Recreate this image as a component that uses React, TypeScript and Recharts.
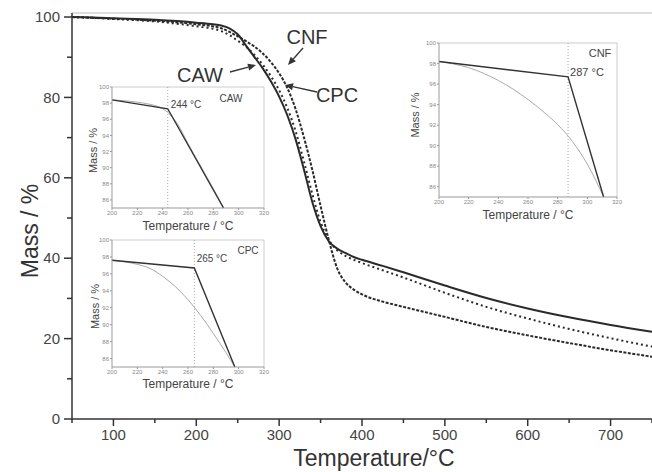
import { LineChart, Line, XAxis, YAxis, ReferenceLine } from 'recharts';

// main TGA curves (temperature in °C, mass in %)
const temps = [50, 75, 100, 150, 200, 220, 230, 240, 250, 260, 270, 280, 290, 300, 310, 320, 330, 340, 350, 360, 370, 380, 390, 400, 425, 450, 500, 550, 600, 650, 700, 750];
const cawMass = [100, 99.9, 99.7, 99.3, 98.6, 98.2, 97.9, 97.2, 95.7, 92.9, 90.1, 87.3, 84.0, 80.2, 75.5, 69.5, 62.0, 54.0, 48.0, 44.2, 42.4, 41.3, 40.3, 39.6, 38.1, 36.5, 33.2, 30.1, 27.5, 25.3, 23.4, 21.7];
const cpcMass = [100, 99.8, 99.5, 98.9, 97.7, 97.1, 96.5, 95.5, 94.1, 92.6, 90.6, 88.2, 85.3, 81.8, 77.3, 71.5, 64.0, 56.0, 49.0, 44.5, 42.0, 40.6, 39.6, 38.8, 37.0, 35.2, 31.4, 27.9, 25.0, 22.4, 20.1, 18.0];
const cnfMass = [100, 99.8, 99.6, 99.1, 98.2, 97.7, 97.2, 96.3, 95.2, 94.0, 92.7, 91.0, 88.8, 86.0, 82.3, 77.0, 70.0, 62.0, 53.0, 44.5, 37.5, 34.0, 32.2, 31.0, 29.2, 27.9, 25.4, 22.9, 20.8, 18.9, 17.1, 15.5];

const xTicks = [50, 100, 150, 200, 250, 300, 350, 400, 450, 500, 550, 600, 650, 700, 750];
const yTicks = [0, 10, 20, 30, 40, 50, 60, 70, 80, 90, 100];

// insets: measured curve + onset tangents
const cawCurveT = [200, 210, 220, 230, 236, 240, 244, 248, 252, 260, 270, 280, 288];
const cawCurveM = [98.4, 98.3, 98.12, 97.85, 97.6, 97.3, 96.85, 96.2, 95.35, 93.0, 90.2, 87.4, 85.1];
const cawTanT = [200, 244, 288];
const cawTanM = [98.4, 97.3, 85.0];

const cpcCurveT = [200, 210, 220, 230, 240, 250, 260, 270, 280, 290, 297];
const cpcCurveM = [97.6, 97.42, 97.12, 96.65, 95.7, 94.5, 92.95, 91.1, 88.95, 86.7, 85.0];
const cpcTanT = [200, 265, 297];
const cpcTanM = [97.6, 96.7, 85.0];

const cnfCurveT = [200, 210, 220, 230, 240, 250, 260, 270, 280, 290, 300, 311];
const cnfCurveM = [98.2, 97.95, 97.6, 97.05, 96.35, 95.5, 94.5, 93.35, 92.05, 90.4, 88.2, 85.0];
const cnfTanT = [200, 287, 311];
const cnfTanM = [98.2, 96.7, 85.0];

const insetXTicks = [200, 220, 240, 260, 280, 300, 320];
const insetYTicks = [86, 88, 90, 92, 94, 96, 98, 100];

const mainData = temps.map((t, i) => ({ t, caw: cawMass[i], cpc: cpcMass[i], cnf: cnfMass[i] }));
const toPts = (ts: number[], ms: number[]) => ts.map((t, i) => ({ t, m: ms[i] }));

const FONT = '"Liberation Sans", Arial, sans-serif';

const XTick = (props: any) => {
  const { x, y, payload } = props;
  const major = payload.value % 100 === 0;
  return (
    <g>
      <line x1={x} y1={y} x2={x} y2={y + (major ? 7 : 4)} stroke="#333" strokeWidth={1.5} />
      {major && (
        <text x={x} y={y + 21} textAnchor="middle" fontSize={15} fill="#444" fontFamily={FONT}>
          {payload.value}
        </text>
      )}
    </g>
  );
};

const YTick = (props: any) => {
  const { x, y, payload } = props;
  const major = payload.value % 20 === 0;
  return (
    <g>
      <line x1={x} y1={y} x2={x - (major ? 8 : 5)} y2={y} stroke="#333" strokeWidth={1.5} />
      {major && (
        <text x={x - 12} y={y} dy="0.35em" textAnchor="end" fontSize={15} fill="#444" fontFamily={FONT}>
          {payload.value}
        </text>
      )}
    </g>
  );
};

type InsetProps = {
  left: number;
  top: number;
  width: number;
  height: number;
  curve: { t: number; m: number }[];
  tangent: { t: number; m: number }[];
  onset: number;
  yDx: number;
  yDy: number;
  xDy: number;
};

function Inset(p: InsetProps) {
  return (
    <div style={{ position: 'absolute', left: p.left, top: p.top, width: p.width, height: p.height }}>
      <LineChart width={p.width} height={p.height} margin={{ top: 5, right: 6, bottom: 0, left: 0 }}>
        <XAxis
          dataKey="t"
          type="number"
          domain={[200, 320]}
          ticks={insetXTicks}
          interval={0}
          tick={{ fontSize: 6, fill: '#888', fontFamily: FONT }}
          tickSize={2}
          tickMargin={1}
          height={26}
          stroke="#999"
          label={{ value: 'Temperature / °C', position: 'center', dy: p.xDy, fontSize: 12, fill: '#444', fontFamily: FONT }}
        />
        <YAxis
          type="number"
          domain={[85, 100]}
          ticks={insetYTicks}
          interval={0}
          width={30}
          tick={{ fontSize: 6, fill: '#888', fontFamily: FONT }}
          tickSize={2}
          tickMargin={1}
          stroke="#999"
          label={{ value: 'Mass / %', angle: -90, position: 'center', dx: p.yDx, dy: p.yDy, fontSize: 11, fill: '#444', fontFamily: FONT }}
        />
        <ReferenceLine y={100} stroke="#ccc" />
        <ReferenceLine x={320} stroke="#ccc" />
        <ReferenceLine x={p.onset} stroke="#aaa" strokeDasharray="1 2" />
        <Line data={p.curve} dataKey="m" stroke="#aaa" strokeWidth={1} dot={false} type="monotone" isAnimationActive={false} />
        <Line data={p.tangent} dataKey="m" stroke="#333" strokeWidth={1.4} dot={false} type="linear" isAnimationActive={false} />
      </LineChart>
    </div>
  );
}

const Arrow = ({ x1, y1, x2, y2 }: { x1: number; y1: number; x2: number; y2: number }) => {
  const a = Math.atan2(y2 - y1, x2 - x1);
  const L = 8;
  const W = 3.5;
  const bx = x2 - L * Math.cos(a);
  const by = y2 - L * Math.sin(a);
  const px = -Math.sin(a) * W;
  const py = Math.cos(a) * W;
  return (
    <g>
      <line x1={x1} y1={y1} x2={bx} y2={by} stroke="#333" strokeWidth={1.3} />
      <polygon points={`${x2},${y2} ${bx + px},${by + py} ${bx - px},${by - py}`} fill="#333" />
    </g>
  );
};

const small = (left: number, top: number, text: string, size = 10) => (
  <div
    style={{
      position: 'absolute',
      left,
      top,
      transform: 'translate(-50%, -50%)',
      fontFamily: FONT,
      fontSize: size,
      color: '#444',
      whiteSpace: 'nowrap',
    }}
  >
    {text}
  </div>
);

export default function App() {
  return (
    <div style={{ position: 'absolute', left: 0, top: 0, width: 652, height: 472, background: '#fff', overflow: 'hidden' }}>
      <LineChart width={652} height={472} data={mainData} margin={{ top: 13, right: 0, bottom: 0, left: 0 }}>
        <XAxis
          dataKey="t"
          type="number"
          domain={[50, 750]}
          ticks={xTicks}
          interval={0}
          tick={<XTick />}
          tickLine={false}
          tickSize={0}
          tickMargin={0}
          height={53}
          axisLine={{ stroke: '#333', strokeWidth: 1.5 }}
          label={{ value: 'Temperature/°C', position: 'insideBottom', offset: 6, dx: 12, fontSize: 23, fill: '#333', fontFamily: FONT }}
        />
        <YAxis
          type="number"
          domain={[0, 101]}
          ticks={yTicks}
          interval={0}
          width={72}
          tick={<YTick />}
          tickLine={false}
          tickSize={0}
          tickMargin={0}
          axisLine={{ stroke: '#333', strokeWidth: 1.5 }}
          label={{ value: 'Mass / %', angle: -90, position: 'center', dx: -6, dy: 15, fontSize: 23, fill: '#333', fontFamily: FONT }}
        />
        <ReferenceLine y={101} stroke="#bbb" strokeWidth={1.2} />
        <Line dataKey="caw" stroke="#2a2a2a" strokeWidth={2} dot={false} type="monotone" isAnimationActive={false} />
        <Line dataKey="cpc" stroke="#2a2a2a" strokeWidth={2} strokeDasharray="2 3" dot={false} type="monotone" isAnimationActive={false} />
        <Line dataKey="cnf" stroke="#2a2a2a" strokeWidth={2} strokeDasharray="3 1.5" dot={false} type="monotone" isAnimationActive={false} />
      </LineChart>

      <Inset left={82} top={82} width={188} height={152} curve={toPts(cawCurveT, cawCurveM)} tangent={toPts(cawTanT, cawTanM)} onset={244} yDx={-4} yDy={3} xDy={5} />
      <Inset left={82} top={235} width={188} height={158} curve={toPts(cpcCurveT, cpcCurveM)} tangent={toPts(cpcTanT, cpcTanM)} onset={265} yDx={-2} yDy={3} xDy={4} />
      <Inset left={409} top={38} width={214} height={185} curve={toPts(cnfCurveT, cnfCurveM)} tangent={toPts(cnfTanT, cnfTanM)} onset={287} yDx={-9} yDy={-5} xDy={5} />

      {small(186, 104, '244 °C')}
      {small(231, 98, 'CAW')}
      {small(212, 258, '265 °C')}
      {small(248, 250, 'CPC')}
      {small(587, 72, '287 °C', 11)}
      {small(600, 53, 'CNF', 11)}

      <svg width={652} height={472} style={{ position: 'absolute', left: 0, top: 0, pointerEvents: 'none' }}>
        <Arrow x1={303} y1={48} x2={288} y2={65} />
        <Arrow x1={230} y1={72} x2={256} y2={65} />
        <Arrow x1={317} y1={92} x2={285} y2={85} />
        <text x={307} y={37} dy="0.35em" textAnchor="middle" fontSize={20} fill="#333" fontFamily={FONT}>CNF</text>
        <text x={200} y={75} dy="0.35em" textAnchor="middle" fontSize={20} fill="#333" fontFamily={FONT}>CAW</text>
        <text x={337} y={95} dy="0.35em" textAnchor="middle" fontSize={20} fill="#333" fontFamily={FONT}>CPC</text>
      </svg>
    </div>
  );
}
